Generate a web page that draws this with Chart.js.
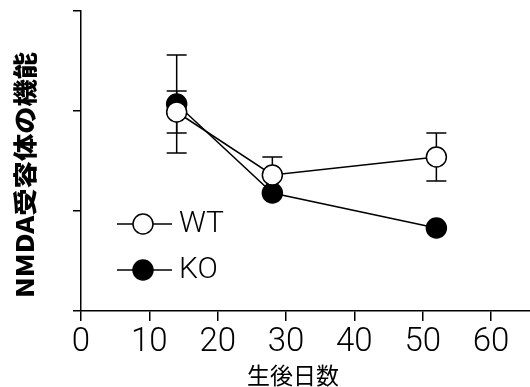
<!DOCTYPE html>
<html>
<head>
<meta charset="utf-8">
<script src="https://cdn.jsdelivr.net/npm/chart.js@4/dist/chart.umd.min.js"></script>
<style>
html,body{margin:0;padding:0;background:#fff;}
#c{display:block;}
</style>
</head>
<body>
<canvas id="c" width="530" height="387"></canvas>
<script>
const xValues = [14, 28, 52];
const wtValues = [1.99, 1.36, 1.54];
const koValues = [2.07, 1.18, 0.83];
const wtErrors = [0.21, 0.18, 0.24];
const koErrors = [0.49, 0, 0];
const xTickValues = [0, 10, 20, 30, 40, 50, 60];
const yTickValues = [0, 1, 2, 3];
const seriesNames = ['WT', 'KO'];
const xTitle = '生後日数';
const yTitle = 'NMDA受容体の機能';

const toPoints = (ys) => xValues.map((x, i) => ({x: x, y: ys[i]}));

const errorBars = {
  id: 'errorBars',
  beforeDatasetsDraw(chart) {
    const ctx = chart.ctx;
    const xs = chart.scales.x, ys = chart.scales.y;
    const sets = [[wtValues, wtErrors], [koValues, koErrors]];
    ctx.save();
    ctx.strokeStyle = '#000';
    ctx.lineWidth = 1.5;
    sets.forEach(([vals, errs]) => {
      vals.forEach((v, i) => {
        if (!errs[i]) return;
        const px = xs.getPixelForValue(xValues[i]);
        const top = ys.getPixelForValue(v + errs[i]);
        const bot = ys.getPixelForValue(v - errs[i]);
        ctx.beginPath();
        ctx.moveTo(px, top); ctx.lineTo(px, bot);
        ctx.moveTo(px - 10, top); ctx.lineTo(px + 10, top);
        ctx.moveTo(px - 10, bot); ctx.lineTo(px + 10, bot);
        ctx.stroke();
      });
    });
    ctx.restore();
  }
};

const legendAndTitles = {
  id: 'legendAndTitles',
  afterDraw(chart) {
    const ctx = chart.ctx;
    const ca = chart.chartArea;
    ctx.save();
    // legend
    const rows = [{name: seriesNames[0], fill: '#fff', y: ca.top + 213},
                  {name: seriesNames[1], fill: '#000', y: ca.top + 259}];
    rows.forEach(r => {
      ctx.strokeStyle = '#000';
      ctx.lineWidth = 1.5;
      ctx.beginPath();
      ctx.moveTo(ca.left + 36, r.y); ctx.lineTo(ca.left + 91, r.y);
      ctx.stroke();
      ctx.beginPath();
      ctx.arc(ca.left + 62, r.y, 10, 0, Math.PI * 2);
      ctx.fillStyle = r.fill;
      ctx.fill();
      ctx.stroke();
      ctx.fillStyle = '#000';
      ctx.font = '300 30px Roboto';
      ctx.textBaseline = 'middle';
      ctx.textAlign = 'left';
      ctx.fillText(r.name, ca.left + 98, r.y);
    });
    // x title
    ctx.font = '23px "Noto Sans CJK JP"';
    ctx.textAlign = 'center';
    ctx.textBaseline = 'middle';
    ctx.fillStyle = '#000';
    ctx.fillText(xTitle, 293, 375);
    // y title
    ctx.translate(25, 175);
    ctx.rotate(-Math.PI / 2);
    ctx.font = '900 24px "Noto Sans CJK JP"';
    const w = ctx.measureText(yTitle).width;
    ctx.scale(246 / w, 1);
    ctx.fillText(yTitle, 0, 0);
    ctx.restore();
  }
};

new Chart(document.getElementById('c'), {
  type: 'line',
  data: {
    datasets: [
      {label: seriesNames[0], data: toPoints(wtValues), borderColor: '#000', borderWidth: 1.5,
       pointRadius: 10, pointBorderWidth: 1.5, pointBackgroundColor: '#fff', pointBorderColor: '#000',
       tension: 0, fill: false},
      {label: seriesNames[1], data: toPoints(koValues), borderColor: '#000', borderWidth: 1.5,
       pointRadius: 10, pointBorderWidth: 1.5, pointBackgroundColor: '#000', pointBorderColor: '#000',
       tension: 0, fill: false}
    ]
  },
  options: {
    responsive: false,
    animation: false,
    devicePixelRatio: 1,
    layout: {autoPadding: false, padding: {top: 11, right: 0, left: 0, bottom: 0}},
    plugins: {legend: {display: false}, tooltip: {enabled: false}},
    scales: {
      x: {
        type: 'linear', min: 0, max: 65.7,
        afterBuildTicks(s) { s.ticks = xTickValues.map(v => ({value: v})); },
        afterFit(s) { s.height = 76; s.paddingLeft = 0; s.paddingRight = 0; },
        grid: {display: true, drawOnChartArea: false, color: '#000', lineWidth: 1.5, tickLength: 10},
        border: {color: '#000', width: 1.5},
        ticks: {color: '#000', font: {family: 'Roboto', size: 33, weight: '300'}, padding: 2, maxRotation: 0,
                autoSkip: false}
      },
      y: {
        type: 'linear', min: 0, max: 3,
        afterBuildTicks(s) { s.ticks = yTickValues.map(v => ({value: v})); },
        afterFit(s) { s.width = 81; s.paddingTop = 0; s.paddingBottom = 0; },
        grid: {display: true, drawOnChartArea: false, color: '#000', lineWidth: 1.5, tickLength: 8},
        border: {color: '#000', width: 1.5},
        ticks: {display: false}
      }
    }
  },
  plugins: [errorBars, legendAndTitles]
});
</script>
</body>
</html>
